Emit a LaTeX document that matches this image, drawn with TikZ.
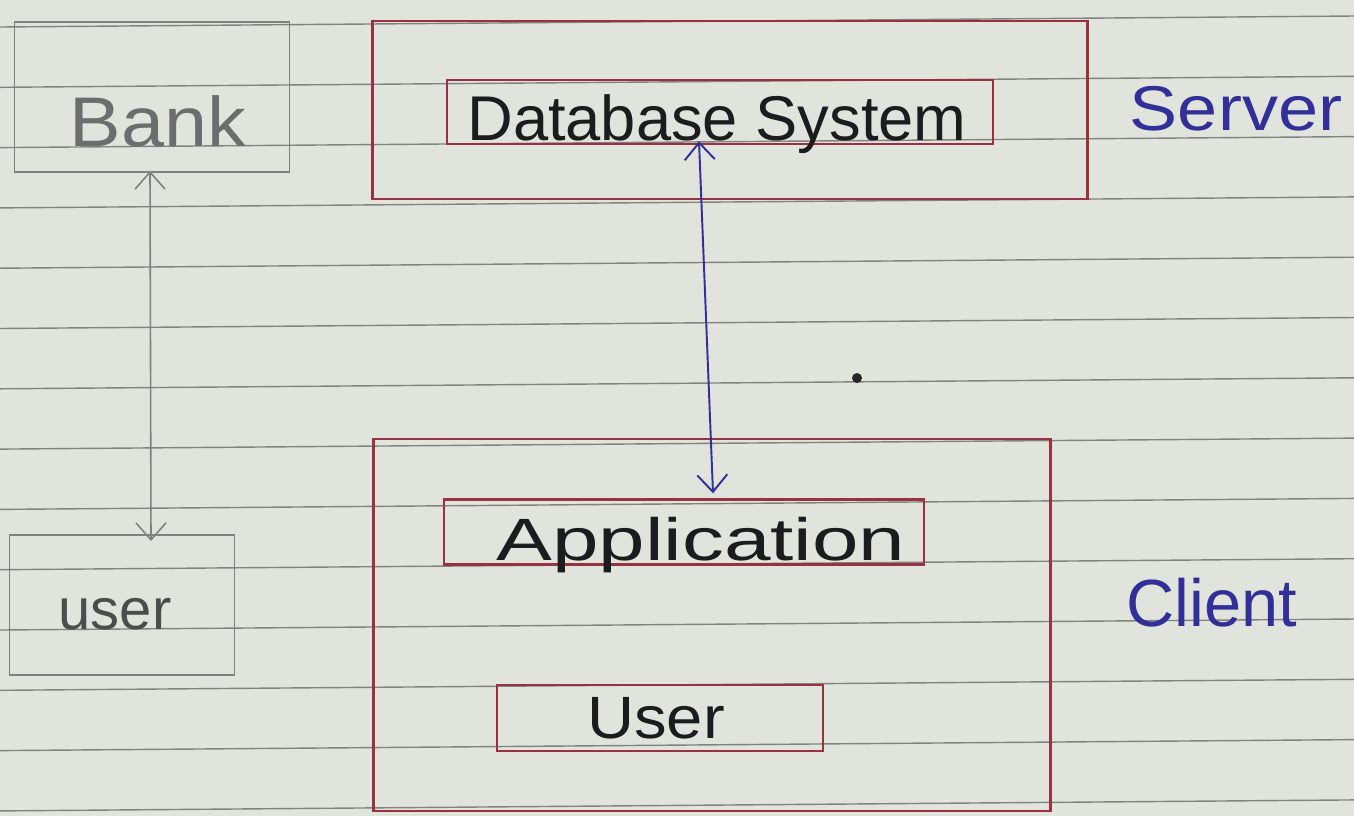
\documentclass[tikz,border=0pt]{standalone}
\usepackage{fontspec}
\setmainfont{Liberation Sans}
\usetikzlibrary{arrows.meta,calc}

\definecolor{paper}{RGB}{224,228,221}
\definecolor{ruling}{RGB}{128,131,127}
\definecolor{redink}{RGB}{152,50,64}
\definecolor{blueink}{RGB}{50,48,152}
\definecolor{pencil}{RGB}{128,128,128}
\definecolor{ink}{RGB}{28,28,30}

\begin{document}
\begin{tikzpicture}[x=0.02cm,y=-0.02cm,
  redbox/.style={draw=redink,line width=1.4pt,inner sep=0pt,rectangle},
  pencilbox/.style={draw=pencil,line width=1.1pt,inner sep=0pt,rectangle},
  txt/.style={anchor=base,inner sep=0pt},
  barb/.tip={Straight Barb[length=0.34cm,width=0.6cm]},
  link/.style={line width=1.1pt,barb-barb}
]
% sheet of ruled paper
\fill[paper] (0,0) rectangle (1354,816);
\useasboundingbox (0,0) rectangle (1354,816);
\foreach \k in {0,...,13}
  \draw[ruling,line width=0.8pt] (0,{27+60.3*\k}) -- (1354,{16+60.3*\k});

% server side
\node[redbox,minimum width=14.3cm,minimum height=3.56cm] (server) at (730,110) {};
\node[redbox,minimum width=10.92cm,minimum height=1.28cm] (db) at (720,112) {};
\node[txt,text=ink,font=\fontsize{36}{40}\selectfont] (dbtext) at (717,140) {Database System};
\node[txt,text=blueink,font=\fontsize{36}{40}\selectfont] (servertext) at (1236,130) {\scalebox{1.14}[1]{Server}};

% client side
\node[redbox,minimum width=13.54cm,minimum height=7.44cm] (client) at (712,625) {};
\node[redbox,minimum width=9.6cm,minimum height=1.3cm] (app) at (684,532) {};
\node[txt,text=ink,font=\fontsize{34}{38}\selectfont] (apptext) at (701,560) {\scalebox{1.4}[1]{Application}};
\node[redbox,minimum width=6.52cm,minimum height=1.32cm] (user) at (660,718) {};
\node[txt,text=ink,font=\fontsize{34}{38}\selectfont] (usertext) at (656,738) {\scalebox{1.09}[1]{User}};
\node[txt,text=blueink,font=\fontsize{38}{42}\selectfont] (clienttext) at (1212,626) {Client};

% pencil sketch on the left
\node[pencilbox,minimum width=5.5cm,minimum height=3.0cm] (bank) at (152,97) {};
\node[txt,text=pencil!85!black,font=\fontsize{40}{44}\selectfont] (banktext) at (158,146) {\scalebox{1.1}[1]{Bank}};
\node[pencilbox,minimum width=4.5cm,minimum height=2.8cm] (puser) at (122,605) {};
\node[txt,text=pencil!60!black,font=\fontsize{33}{37}\selectfont] (pusertext) at (115,629) {user};

% connectors
\draw[link,blueink] ($(db.south)+(-21,-4)$) -- ($(app.north)+(29,-5)$);
\draw[link,pencil,line width=0.9pt] ($(bank.south)+(-2,-2)$) -- ($(puser.north)+(29,7)$);

% stray ink dot
\fill[black!85] (857,378) circle (0.1cm);
\end{tikzpicture}
\end{document}
